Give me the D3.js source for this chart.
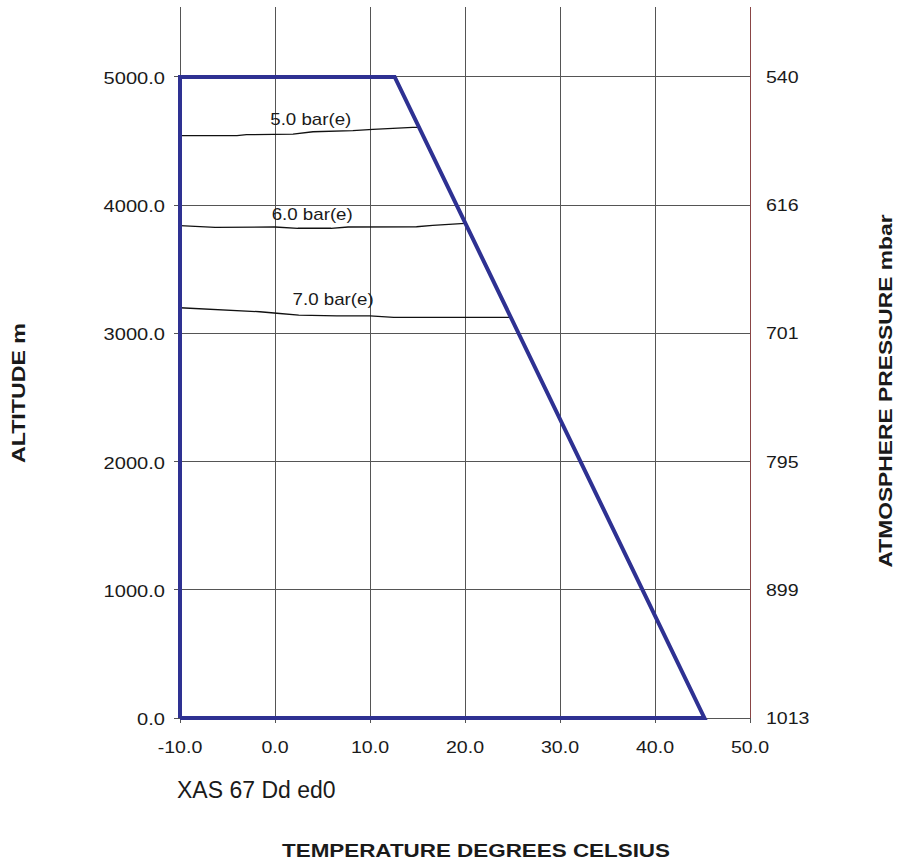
<!DOCTYPE html>
<html>
<head>
    <meta charset="utf-8">
    <title>Altitude vs temperature</title>
    <script src="https://d3js.org/d3.v7.min.js"></script>
    <style>
        body { margin: 0; background: #fff; }
        text { font-family: "Liberation Sans", Arial, sans-serif; fill: #1a1a1a; }
        .grid line { shape-rendering: crispEdges; }
    </style>
</head>
<body>
    <script>
        // temperature ticks and altitude ticks
        const tempTicks = [-10, 0, 10, 20, 30, 40, 50];
        const altTicks = [0, 1000, 2000, 3000, 4000, 5000];
        const pressureLabels = [1013, 899, 795, 701, 616, 540];

        // operating envelope (temperature, altitude)
        const envelope = [[-10, 0], [-10, 5000], [12.6, 5000], [45.2, 0], [-10, 0]];

        // pressure curves
        const curveNames = ["5.0 bar(e)", "6.0 bar(e)", "7.0 bar(e)"];
        const curve5 = [[-10, 4542], [-4.0, 4542], [-3.0, 4550], [1.9, 4555], [4.0, 4573],
                        [8.2, 4581], [10.3, 4592], [14.5, 4607], [15.1, 4607]];
        const curve6 = [[-10, 3840], [-6.3, 3827], [0, 3830], [2.4, 3820], [5.9, 3820],
                        [7.7, 3830], [14.9, 3832], [16.6, 3843], [20.0, 3859]];
        const curve7 = [[-10, 3200], [-1.6, 3169], [0.2, 3157], [2.5, 3143], [6.5, 3136],
                        [10, 3136], [12.5, 3125], [24.8, 3125]];
        const curveLabelAt = [[-0.5, 4625], [-0.35, 3885], [1.85, 3220]];

        const width = 897, height = 862;
        const x = d3.scaleLinear().domain([-10, 50]).range([180, 750]);
        const y = d3.scaleLinear().domain([0, 5546]).range([718, 7]);
        const fmt = d => d3.format(".1f")(d).replace("\u2212", "-");

        const svg = d3.select("body").append("svg")
            .attr("width", width)
            .attr("height", height);

        // stretch text a bit wider like the original
        function stretch(sel, k) {
            sel.each(function() {
                const len = this.getComputedTextLength();
                d3.select(this).attr("textLength", len * k).attr("lengthAdjust", "spacingAndGlyphs");
            });
        }

        const grid = svg.append("g").attr("class", "grid");

        // vertical grid
        grid.append("g").selectAll("line")
            .data(tempTicks.slice(0, -1))
            .join("line")
            .attr("x1", d => x(d)).attr("x2", d => x(d))
            .attr("y1", y.range()[1]).attr("y2", 723)
            .attr("stroke", "#555").attr("stroke-width", 1);

        // horizontal grid
        grid.append("g").selectAll("line")
            .data(altTicks)
            .join("line")
            .attr("x1", 174).attr("x2", 750)
            .attr("y1", d => y(d)).attr("y2", d => y(d))
            .attr("stroke", "#555").attr("stroke-width", 1);

        // right axis
        grid.append("line")
            .attr("x1", 750).attr("x2", 750)
            .attr("y1", y.range()[1]).attr("y2", 718)
            .attr("stroke", "#8a4545").attr("stroke-width", 1);
        grid.append("line")
            .attr("x1", 750).attr("x2", 750)
            .attr("y1", 718).attr("y2", 723)
            .attr("stroke", "#555");

        // left tick labels
        svg.append("g").selectAll("text")
            .data(altTicks)
            .join("text")
            .attr("x", 165).attr("y", d => y(d) + 7)
            .attr("text-anchor", "end")
            .attr("font-size", 17)
            .text(fmt)
            .call(stretch, 1.18);

        // bottom tick labels
        svg.append("g").selectAll("text")
            .data(tempTicks)
            .join("text")
            .attr("x", d => x(d)).attr("y", 753)
            .attr("text-anchor", "middle")
            .attr("font-size", 17)
            .text(fmt)
            .call(stretch, 1.15);

        // right tick labels (pressure)
        svg.append("g").selectAll("text")
            .data(altTicks)
            .join("text")
            .attr("x", 766).attr("y", d => y(d) + 6)
            .attr("font-size", 17)
            .text((d, i) => pressureLabels[i])
            .call(stretch, 1.15);

        // pressure curves
        const line = d3.line().x(d => x(d[0])).y(d => y(d[1]));
        svg.append("g").selectAll("path")
            .data([curve5, curve6, curve7])
            .join("path")
            .attr("d", line)
            .attr("fill", "none")
            .attr("stroke", "#111")
            .attr("stroke-width", 1.3);

        svg.append("g").selectAll("text")
            .data(curveNames)
            .join("text")
            .attr("x", (d, i) => x(curveLabelAt[i][0]))
            .attr("y", (d, i) => y(curveLabelAt[i][1]))
            .attr("font-size", 17)
            .text(d => d)
            .call(stretch, 1.1);

        // envelope
        svg.append("path")
            .datum(envelope)
            .attr("d", line)
            .attr("fill", "none")
            .attr("stroke", "#2e3192")
            .attr("stroke-width", 4)
            .attr("stroke-linejoin", "miter");

        // titles
        svg.append("text")
            .attr("transform", "translate(25,393) rotate(-90)")
            .attr("text-anchor", "middle")
            .attr("font-size", 19).attr("font-weight", "bold")
            .attr("textLength", 140).attr("lengthAdjust", "spacingAndGlyphs")
            .text("ALTITUDE m");

        svg.append("text")
            .attr("transform", "translate(892,391) rotate(-90)")
            .attr("text-anchor", "middle")
            .attr("font-size", 19).attr("font-weight", "bold")
            .attr("textLength", 353).attr("lengthAdjust", "spacingAndGlyphs")
            .text("ATMOSPHERE PRESSURE mbar");

        svg.append("text")
            .attr("x", 476).attr("y", 857)
            .attr("text-anchor", "middle")
            .attr("font-size", 19).attr("font-weight", "bold")
            .attr("textLength", 388).attr("lengthAdjust", "spacingAndGlyphs")
            .text("TEMPERATURE DEGREES CELSIUS");

        svg.append("text")
            .attr("x", 177).attr("y", 798)
            .attr("font-size", 23)
            .text("XAS 67 Dd ed0");
    </script>
</body>
</html>
